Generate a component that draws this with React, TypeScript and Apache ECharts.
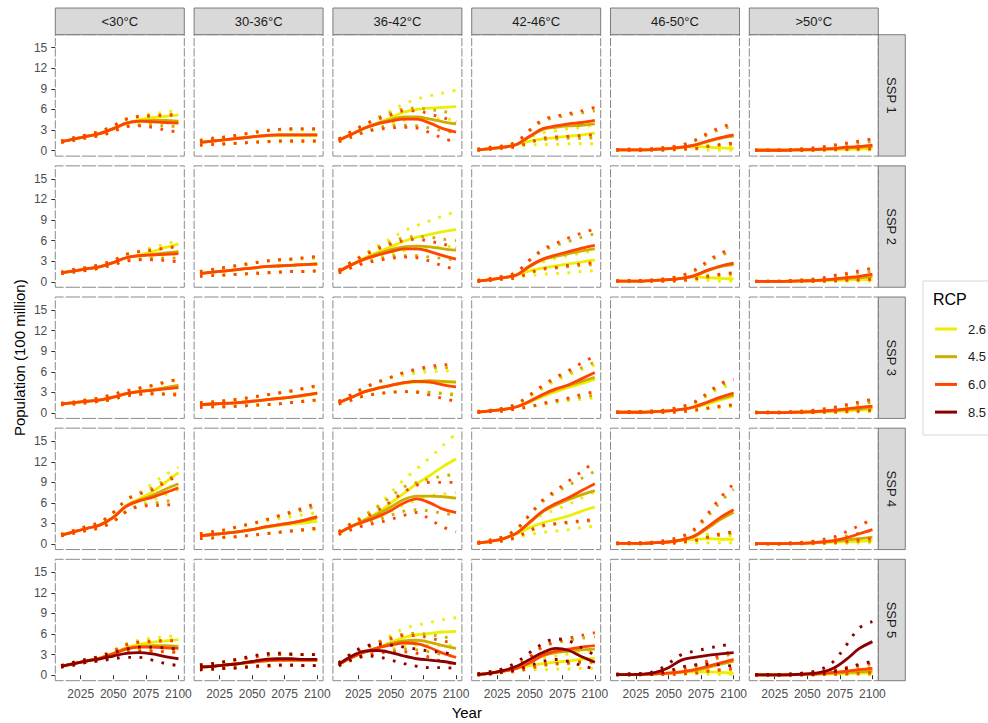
import React, { useEffect, useRef } from "react";
import * as echarts from "echarts";

// Population exposed per temperature band, by SSP (rows) and RCP (colours).
// Each panel: rcp -> [median, lower, upper], one value per year.
type Trio = number[][];
type Panel = Record<string, Trio>;

const years = [2010, 2020, 2030, 2040, 2050, 2060, 2070, 2080, 2090, 2100];
const bands = ["<30°C", "30-36°C", "36-42°C", "42-46°C", "46-50°C", ">50°C"];
const sspLabels = ["SSP 1", "SSP 2", "SSP 3", "SSP 4", "SSP 5"];
const rcps = ["2.6", "4.5", "6.0", "8.5"];
const rcpColors = ["#EEEE00", "#CDAD00", "#FF4500", "#8B0000"];
const xTicks = [2025, 2050, 2075, 2100];
const yTicks = [0, 3, 6, 9, 12, 15];

const ssp1: Panel[] = [
  {
    "2.6": [[1.3, 1.7, 2.1, 2.5, 3.2, 4.0, 4.5, 4.8, 5.0, 5.2], [1.2, 1.5, 1.9, 2.2, 2.8, 3.6, 3.9, 4.0, 4.1, 4.1], [1.4, 1.9, 2.3, 2.8, 3.6, 4.6, 5.1, 5.4, 5.6, 5.9]],
    "4.5": [[1.3, 1.7, 2.1, 2.5, 3.2, 4.0, 4.3, 4.4, 4.4, 4.3], [1.2, 1.5, 1.9, 2.2, 2.8, 3.6, 3.7, 3.7, 3.6, 3.5], [1.4, 1.9, 2.3, 2.8, 3.6, 4.6, 4.9, 5.0, 5.1, 5.1]],
    "6.0": [[1.3, 1.7, 2.1, 2.5, 3.2, 4.0, 4.3, 4.2, 4.1, 4.0], [1.2, 1.5, 1.9, 2.2, 2.8, 3.5, 3.6, 3.4, 3.0, 2.7], [1.4, 1.9, 2.3, 2.8, 3.6, 4.6, 5.0, 5.1, 5.2, 5.3]],
  },
  {
    "2.6": [[1.2, 1.4, 1.6, 1.8, 2.0, 2.1, 2.2, 2.2, 2.2, 2.2], [0.8, 0.9, 1.0, 1.1, 1.2, 1.3, 1.3, 1.3, 1.3, 1.3], [1.5, 1.8, 2.0, 2.3, 2.6, 2.9, 3.0, 3.0, 3.0, 3.0]],
    "4.5": [[1.2, 1.4, 1.6, 1.8, 2.0, 2.2, 2.3, 2.3, 2.3, 2.3], [0.8, 0.9, 1.0, 1.1, 1.2, 1.3, 1.4, 1.4, 1.4, 1.4], [1.5, 1.8, 2.0, 2.3, 2.6, 2.9, 3.1, 3.1, 3.1, 3.1]],
    "6.0": [[1.2, 1.4, 1.6, 1.8, 2.0, 2.2, 2.3, 2.3, 2.3, 2.3], [0.8, 0.9, 1.0, 1.1, 1.2, 1.3, 1.4, 1.4, 1.4, 1.4], [1.5, 1.8, 2.0, 2.3, 2.6, 2.9, 3.1, 3.2, 3.2, 3.2]],
  },
  {
    "2.6": [[1.5, 2.4, 3.3, 4.0, 4.8, 5.6, 6.0, 6.2, 6.3, 6.4], [1.3, 2.0, 2.8, 3.3, 3.9, 4.4, 4.6, 4.6, 4.6, 4.5], [1.7, 2.8, 3.8, 4.8, 5.8, 6.8, 7.5, 8.0, 8.4, 8.8]],
    "4.5": [[1.5, 2.4, 3.3, 4.0, 4.5, 4.9, 4.9, 4.6, 4.2, 3.9], [1.3, 2.0, 2.8, 3.3, 3.6, 3.7, 3.6, 3.3, 2.9, 2.6], [1.7, 2.8, 3.8, 4.8, 5.5, 6.1, 6.2, 6.0, 5.7, 5.4]],
    "6.0": [[1.5, 2.4, 3.3, 3.9, 4.3, 4.6, 4.6, 4.0, 3.2, 2.7], [1.3, 2.0, 2.7, 3.1, 3.3, 3.4, 3.3, 2.6, 1.8, 1.2], [1.7, 2.8, 3.8, 4.6, 5.2, 5.8, 5.8, 5.3, 4.8, 4.2]],
  },
  {
    "2.6": [[0.1, 0.3, 0.5, 0.9, 1.4, 1.7, 1.9, 2.1, 2.3, 2.6], [0.05, 0.2, 0.4, 0.6, 0.8, 0.9, 0.9, 1.0, 1.0, 1.0], [0.2, 0.5, 0.7, 1.2, 2.0, 2.6, 2.9, 3.2, 3.4, 3.8]],
    "4.5": [[0.1, 0.3, 0.5, 0.9, 2.0, 3.1, 3.4, 3.6, 3.7, 3.9], [0.05, 0.2, 0.4, 0.6, 1.2, 1.6, 1.7, 1.8, 1.8, 1.9], [0.2, 0.5, 0.7, 1.3, 2.9, 4.3, 4.8, 5.2, 5.5, 5.8]],
    "6.0": [[0.1, 0.3, 0.5, 0.9, 2.1, 3.2, 3.6, 3.9, 4.1, 4.4], [0.05, 0.2, 0.4, 0.6, 1.2, 1.8, 2.0, 2.1, 2.2, 2.3], [0.2, 0.5, 0.7, 1.3, 3.0, 4.5, 5.0, 5.4, 5.8, 6.3]],
  },
  {
    "2.6": [[0.1, 0.1, 0.1, 0.2, 0.3, 0.4, 0.6, 0.5, 0.4, 0.3], [0.05, 0.05, 0.05, 0.1, 0.1, 0.2, 0.2, 0.1, 0.1, 0.1], [0.15, 0.2, 0.2, 0.3, 0.5, 0.7, 0.9, 0.8, 0.7, 0.6]],
    "4.5": [[0.1, 0.1, 0.1, 0.2, 0.3, 0.5, 0.8, 1.3, 1.8, 2.1], [0.05, 0.05, 0.05, 0.1, 0.1, 0.2, 0.3, 0.6, 0.8, 1.0], [0.15, 0.2, 0.2, 0.3, 0.5, 0.8, 1.4, 2.3, 3.1, 3.6]],
    "6.0": [[0.1, 0.1, 0.1, 0.2, 0.3, 0.5, 0.8, 1.4, 1.9, 2.3], [0.05, 0.05, 0.05, 0.1, 0.1, 0.2, 0.3, 0.6, 0.9, 1.1], [0.15, 0.2, 0.2, 0.3, 0.5, 0.8, 1.5, 2.5, 3.4, 3.9]],
  },
  {
    "2.6": [[0.05, 0.05, 0.05, 0.1, 0.1, 0.15, 0.2, 0.2, 0.25, 0.3], [0.02, 0.02, 0.02, 0.05, 0.05, 0.05, 0.1, 0.1, 0.1, 0.1], [0.1, 0.1, 0.1, 0.2, 0.3, 0.4, 0.5, 0.5, 0.6, 0.6]],
    "4.5": [[0.05, 0.05, 0.05, 0.1, 0.1, 0.2, 0.3, 0.4, 0.5, 0.6], [0.02, 0.02, 0.02, 0.05, 0.05, 0.1, 0.1, 0.15, 0.2, 0.2], [0.1, 0.1, 0.1, 0.2, 0.3, 0.5, 0.7, 0.9, 1.1, 1.3]],
    "6.0": [[0.05, 0.05, 0.05, 0.1, 0.15, 0.2, 0.3, 0.5, 0.6, 0.8], [0.02, 0.02, 0.02, 0.05, 0.05, 0.1, 0.15, 0.2, 0.25, 0.3], [0.1, 0.1, 0.1, 0.2, 0.3, 0.5, 0.8, 1.1, 1.4, 1.7]],
  },
];

const ssp2: Panel[] = [
  {
    "2.6": [[1.3, 1.6, 1.9, 2.2, 2.8, 3.5, 3.9, 4.4, 5.0, 5.5], [1.2, 1.4, 1.7, 2.0, 2.5, 3.1, 3.4, 3.6, 3.9, 4.1], [1.4, 1.8, 2.1, 2.5, 3.1, 4.0, 4.5, 5.0, 5.5, 6.0]],
    "4.5": [[1.3, 1.6, 1.9, 2.2, 2.8, 3.5, 3.8, 4.0, 4.2, 4.4], [1.2, 1.4, 1.7, 2.0, 2.5, 3.1, 3.3, 3.4, 3.4, 3.5], [1.4, 1.8, 2.1, 2.5, 3.1, 4.0, 4.4, 4.7, 4.9, 5.1]],
    "6.0": [[1.3, 1.6, 1.9, 2.2, 2.8, 3.5, 3.8, 3.9, 4.0, 4.1], [1.2, 1.4, 1.7, 2.0, 2.5, 3.0, 3.2, 3.2, 3.1, 2.9], [1.4, 1.8, 2.1, 2.5, 3.1, 4.0, 4.4, 4.6, 4.9, 5.2]],
  },
  {
    "2.6": [[1.2, 1.4, 1.6, 1.8, 2.0, 2.2, 2.3, 2.4, 2.5, 2.5], [0.8, 0.9, 1.0, 1.1, 1.2, 1.3, 1.4, 1.5, 1.5, 1.5], [1.5, 1.8, 2.1, 2.4, 2.7, 3.0, 3.1, 3.2, 3.3, 3.4]],
    "4.5": [[1.2, 1.4, 1.6, 1.8, 2.0, 2.2, 2.3, 2.4, 2.5, 2.6], [0.8, 0.9, 1.0, 1.1, 1.2, 1.3, 1.4, 1.5, 1.5, 1.6], [1.5, 1.8, 2.1, 2.4, 2.7, 3.0, 3.2, 3.3, 3.5, 3.6]],
    "6.0": [[1.2, 1.4, 1.6, 1.8, 2.0, 2.2, 2.3, 2.4, 2.5, 2.6], [0.8, 0.9, 1.0, 1.1, 1.2, 1.3, 1.4, 1.5, 1.5, 1.6], [1.5, 1.8, 2.1, 2.4, 2.7, 3.0, 3.2, 3.3, 3.5, 3.7]],
  },
  {
    "2.6": [[1.5, 2.5, 3.5, 4.3, 5.1, 5.9, 6.5, 6.9, 7.3, 7.6], [1.3, 2.1, 2.9, 3.5, 4.0, 4.5, 4.8, 5.0, 5.1, 5.2], [1.7, 2.9, 4.1, 5.2, 6.3, 7.4, 8.2, 8.9, 9.6, 10.2]],
    "4.5": [[1.5, 2.5, 3.4, 4.1, 4.7, 5.1, 5.2, 5.1, 4.8, 4.6], [1.3, 2.1, 2.8, 3.3, 3.7, 3.8, 3.8, 3.6, 3.4, 3.2], [1.7, 2.9, 4.0, 5.0, 5.8, 6.4, 6.6, 6.5, 6.2, 6.0]],
    "6.0": [[1.5, 2.5, 3.3, 3.9, 4.4, 4.8, 4.8, 4.4, 3.8, 3.3], [1.3, 2.1, 2.7, 3.1, 3.4, 3.6, 3.5, 3.0, 2.3, 1.8], [1.7, 2.9, 3.9, 4.8, 5.5, 6.0, 6.2, 5.9, 5.5, 5.0]],
  },
  {
    "2.6": [[0.1, 0.3, 0.6, 1.0, 1.6, 2.0, 2.3, 2.6, 2.9, 3.2], [0.05, 0.2, 0.4, 0.6, 0.9, 1.1, 1.2, 1.3, 1.5, 1.6], [0.2, 0.5, 0.8, 1.3, 2.3, 2.9, 3.4, 3.8, 4.2, 4.6]],
    "4.5": [[0.1, 0.3, 0.6, 1.0, 2.2, 3.2, 3.7, 4.1, 4.5, 4.8], [0.05, 0.2, 0.4, 0.6, 1.3, 1.8, 2.0, 2.2, 2.4, 2.5], [0.2, 0.5, 0.8, 1.4, 3.1, 4.5, 5.3, 5.9, 6.5, 7.0]],
    "6.0": [[0.1, 0.3, 0.6, 1.0, 2.3, 3.3, 3.9, 4.4, 4.9, 5.3], [0.05, 0.2, 0.4, 0.6, 1.3, 1.9, 2.1, 2.4, 2.6, 2.8], [0.2, 0.5, 0.8, 1.4, 3.2, 4.7, 5.6, 6.4, 7.1, 7.7]],
  },
  {
    "2.6": [[0.1, 0.1, 0.1, 0.2, 0.3, 0.5, 0.7, 0.6, 0.5, 0.4], [0.05, 0.05, 0.05, 0.1, 0.1, 0.2, 0.2, 0.2, 0.1, 0.1], [0.15, 0.2, 0.2, 0.3, 0.5, 0.8, 1.1, 1.0, 0.9, 0.8]],
    "4.5": [[0.1, 0.1, 0.1, 0.2, 0.3, 0.5, 0.9, 1.6, 2.2, 2.5], [0.05, 0.05, 0.05, 0.1, 0.1, 0.2, 0.4, 0.7, 1.0, 1.2], [0.15, 0.2, 0.2, 0.3, 0.5, 0.9, 1.6, 2.8, 3.9, 4.3]],
    "6.0": [[0.1, 0.1, 0.1, 0.2, 0.3, 0.5, 0.9, 1.7, 2.3, 2.7], [0.05, 0.05, 0.05, 0.1, 0.1, 0.2, 0.4, 0.8, 1.1, 1.3], [0.15, 0.2, 0.2, 0.3, 0.5, 0.9, 1.7, 3.0, 4.2, 4.6]],
  },
  {
    "2.6": [[0.05, 0.05, 0.05, 0.1, 0.1, 0.15, 0.2, 0.25, 0.3, 0.3], [0.02, 0.02, 0.02, 0.05, 0.05, 0.05, 0.1, 0.1, 0.1, 0.1], [0.1, 0.1, 0.1, 0.2, 0.3, 0.4, 0.5, 0.6, 0.6, 0.7]],
    "4.5": [[0.05, 0.05, 0.05, 0.1, 0.15, 0.2, 0.3, 0.5, 0.6, 0.8], [0.02, 0.02, 0.02, 0.05, 0.05, 0.1, 0.1, 0.2, 0.2, 0.3], [0.1, 0.1, 0.1, 0.2, 0.3, 0.5, 0.7, 1.0, 1.3, 1.5]],
    "6.0": [[0.05, 0.05, 0.05, 0.1, 0.15, 0.25, 0.4, 0.6, 0.8, 1.1], [0.02, 0.02, 0.02, 0.05, 0.05, 0.1, 0.15, 0.25, 0.3, 0.4], [0.1, 0.1, 0.1, 0.2, 0.3, 0.5, 0.9, 1.2, 1.6, 2.0]],
  },
];

const ssp3: Panel[] = [
  {
    "2.6": [[1.3, 1.5, 1.7, 1.9, 2.3, 2.8, 3.1, 3.3, 3.6, 3.9], [1.2, 1.3, 1.5, 1.7, 2.0, 2.5, 2.7, 2.8, 2.8, 2.8], [1.4, 1.6, 1.9, 2.2, 2.7, 3.2, 3.6, 4.0, 4.4, 4.8]],
    "4.5": [[1.3, 1.5, 1.7, 1.9, 2.3, 2.8, 3.1, 3.4, 3.7, 4.0], [1.2, 1.3, 1.5, 1.7, 2.0, 2.5, 2.7, 2.8, 2.8, 2.7], [1.4, 1.6, 1.9, 2.2, 2.7, 3.2, 3.6, 4.0, 4.5, 4.9]],
    "6.0": [[1.3, 1.5, 1.7, 1.9, 2.3, 2.8, 3.1, 3.3, 3.5, 3.7], [1.2, 1.3, 1.5, 1.7, 2.0, 2.5, 2.7, 2.8, 2.7, 2.6], [1.4, 1.6, 1.9, 2.2, 2.7, 3.2, 3.6, 4.0, 4.5, 4.9]],
  },
  {
    "2.6": [[1.2, 1.3, 1.4, 1.5, 1.7, 1.9, 2.1, 2.3, 2.5, 2.8], [0.8, 0.9, 0.9, 1.0, 1.1, 1.2, 1.3, 1.5, 1.7, 1.8], [1.5, 1.6, 1.8, 2.0, 2.3, 2.6, 2.9, 3.2, 3.5, 3.8]],
    "4.5": [[1.2, 1.3, 1.4, 1.5, 1.7, 1.9, 2.1, 2.3, 2.6, 2.9], [0.8, 0.9, 0.9, 1.0, 1.1, 1.2, 1.3, 1.5, 1.7, 1.9], [1.5, 1.6, 1.8, 2.0, 2.3, 2.6, 2.9, 3.2, 3.6, 4.0]],
    "6.0": [[1.2, 1.3, 1.4, 1.5, 1.7, 1.9, 2.1, 2.3, 2.6, 2.9], [0.8, 0.9, 0.9, 1.0, 1.1, 1.2, 1.3, 1.5, 1.7, 1.9], [1.5, 1.6, 1.8, 2.0, 2.3, 2.6, 2.9, 3.2, 3.6, 4.0]],
  },
  {
    "2.6": [[1.5, 2.3, 3.1, 3.6, 4.0, 4.3, 4.5, 4.5, 4.5, 4.5], [1.3, 1.9, 2.5, 2.8, 3.0, 3.1, 3.1, 3.0, 2.9, 2.8], [1.7, 2.7, 3.7, 4.4, 5.1, 5.5, 5.8, 6.0, 6.1, 6.2]],
    "4.5": [[1.5, 2.3, 3.1, 3.6, 4.0, 4.4, 4.6, 4.7, 4.6, 4.5], [1.3, 1.9, 2.5, 2.8, 3.0, 3.1, 3.1, 3.0, 2.8, 2.6], [1.7, 2.7, 3.7, 4.5, 5.2, 5.8, 6.2, 6.5, 6.6, 6.6]],
    "6.0": [[1.5, 2.3, 3.1, 3.6, 4.0, 4.4, 4.6, 4.5, 4.1, 3.8], [1.3, 1.9, 2.5, 2.8, 3.0, 3.1, 3.0, 2.6, 2.1, 1.7], [1.7, 2.7, 3.7, 4.5, 5.2, 5.9, 6.4, 6.8, 7.0, 7.1]],
  },
  {
    "2.6": [[0.1, 0.3, 0.5, 0.9, 1.6, 2.4, 3.1, 3.7, 4.3, 4.9], [0.05, 0.2, 0.3, 0.6, 0.9, 1.2, 1.5, 1.8, 2.0, 2.2], [0.2, 0.4, 0.7, 1.3, 2.4, 3.6, 4.7, 5.5, 6.3, 7.0]],
    "4.5": [[0.1, 0.3, 0.5, 0.9, 1.7, 2.6, 3.4, 4.0, 4.6, 5.2], [0.05, 0.2, 0.3, 0.6, 0.9, 1.3, 1.7, 2.0, 2.3, 2.6], [0.2, 0.4, 0.7, 1.3, 2.5, 3.8, 5.0, 5.8, 6.6, 7.4]],
    "6.0": [[0.1, 0.3, 0.5, 0.9, 1.7, 2.7, 3.5, 4.1, 5.0, 5.9], [0.05, 0.2, 0.3, 0.6, 0.9, 1.4, 1.8, 2.2, 2.7, 3.1], [0.2, 0.4, 0.7, 1.3, 2.6, 4.0, 5.2, 6.2, 7.3, 8.3]],
  },
  {
    "2.6": [[0.1, 0.1, 0.1, 0.2, 0.3, 0.5, 0.8, 1.3, 1.9, 2.4], [0.05, 0.05, 0.05, 0.1, 0.1, 0.2, 0.3, 0.6, 0.8, 1.0], [0.15, 0.2, 0.2, 0.3, 0.5, 0.8, 1.4, 2.5, 3.6, 4.2]],
    "4.5": [[0.1, 0.1, 0.1, 0.2, 0.3, 0.5, 0.9, 1.5, 2.1, 2.6], [0.05, 0.05, 0.05, 0.1, 0.1, 0.2, 0.4, 0.7, 0.9, 1.1], [0.15, 0.2, 0.2, 0.3, 0.5, 0.9, 1.5, 2.7, 4.0, 4.6]],
    "6.0": [[0.1, 0.1, 0.1, 0.2, 0.3, 0.5, 0.9, 1.6, 2.3, 2.9], [0.05, 0.05, 0.05, 0.1, 0.1, 0.2, 0.4, 0.7, 1.0, 1.2], [0.15, 0.2, 0.2, 0.3, 0.5, 0.9, 1.6, 2.9, 4.3, 4.9]],
  },
  {
    "2.6": [[0.05, 0.05, 0.05, 0.1, 0.1, 0.15, 0.2, 0.3, 0.4, 0.5], [0.02, 0.02, 0.02, 0.05, 0.05, 0.05, 0.1, 0.1, 0.15, 0.2], [0.1, 0.1, 0.1, 0.2, 0.3, 0.4, 0.5, 0.7, 0.8, 1.0]],
    "4.5": [[0.05, 0.05, 0.05, 0.1, 0.15, 0.2, 0.3, 0.5, 0.6, 0.8], [0.02, 0.02, 0.02, 0.05, 0.05, 0.1, 0.1, 0.2, 0.25, 0.3], [0.1, 0.1, 0.1, 0.2, 0.3, 0.5, 0.7, 1.0, 1.3, 1.6]],
    "6.0": [[0.05, 0.05, 0.05, 0.1, 0.15, 0.25, 0.4, 0.6, 0.8, 1.0], [0.02, 0.02, 0.02, 0.05, 0.05, 0.1, 0.15, 0.25, 0.3, 0.4], [0.1, 0.1, 0.1, 0.2, 0.3, 0.5, 0.8, 1.2, 1.6, 2.0]],
  },
];

const ssp4: Panel[] = [
  {
    "2.6": [[1.3, 1.8, 2.3, 2.8, 3.9, 5.6, 6.6, 7.6, 9.0, 10.4], [1.2, 1.6, 2.0, 2.4, 3.3, 4.8, 5.8, 6.4, 7.2, 8.0], [1.4, 2.0, 2.6, 3.2, 4.6, 6.5, 7.5, 8.8, 10.1, 11.2]],
    "4.5": [[1.3, 1.8, 2.3, 2.8, 3.9, 5.6, 6.4, 7.1, 8.0, 8.8], [1.2, 1.6, 2.0, 2.4, 3.3, 4.8, 5.5, 5.9, 6.2, 6.6], [1.4, 2.0, 2.6, 3.2, 4.6, 6.5, 7.4, 8.2, 9.3, 10.2]],
    "6.0": [[1.3, 1.8, 2.3, 2.8, 3.9, 5.5, 6.3, 6.8, 7.5, 8.2], [1.2, 1.6, 2.0, 2.4, 3.3, 4.7, 5.5, 5.6, 5.7, 5.8], [1.4, 2.0, 2.6, 3.2, 4.6, 6.4, 7.3, 7.9, 9.0, 10.0]],
  },
  {
    "2.6": [[1.2, 1.4, 1.6, 1.8, 2.1, 2.4, 2.7, 2.9, 3.1, 3.3], [0.8, 0.9, 1.0, 1.1, 1.3, 1.5, 1.7, 1.9, 2.0, 2.1], [1.5, 1.8, 2.1, 2.5, 2.9, 3.3, 3.7, 4.0, 4.3, 4.6]],
    "4.5": [[1.2, 1.4, 1.6, 1.8, 2.1, 2.5, 2.8, 3.1, 3.4, 3.8], [0.8, 0.9, 1.0, 1.1, 1.3, 1.5, 1.7, 1.9, 2.1, 2.3], [1.5, 1.8, 2.1, 2.6, 3.0, 3.5, 4.0, 4.5, 5.0, 5.6]],
    "6.0": [[1.2, 1.4, 1.6, 1.8, 2.1, 2.5, 2.8, 3.1, 3.5, 4.0], [0.8, 0.9, 1.0, 1.1, 1.3, 1.5, 1.7, 1.9, 2.1, 2.3], [1.5, 1.8, 2.1, 2.6, 3.0, 3.5, 4.1, 4.7, 5.3, 6.0]],
  },
  {
    "2.6": [[1.6, 2.6, 3.6, 4.6, 6.0, 7.4, 8.8, 10.0, 11.3, 12.4], [1.4, 2.2, 3.0, 3.8, 4.8, 5.7, 6.4, 7.0, 7.3, 7.5], [1.8, 3.1, 4.3, 5.6, 7.5, 9.4, 11.0, 12.6, 14.4, 16.1]],
    "4.5": [[1.6, 2.6, 3.5, 4.4, 5.4, 6.5, 7.0, 7.0, 6.9, 6.7], [1.4, 2.2, 2.9, 3.5, 4.2, 4.8, 5.0, 4.8, 4.5, 4.2], [1.8, 3.0, 4.2, 5.4, 6.9, 8.3, 9.0, 9.5, 9.9, 10.2]],
    "6.0": [[1.6, 2.6, 3.3, 4.0, 4.9, 6.0, 6.6, 6.0, 5.1, 4.6], [1.4, 2.1, 2.7, 3.1, 3.6, 4.2, 4.6, 3.6, 2.5, 1.8], [1.8, 3.0, 3.9, 4.9, 6.2, 7.6, 8.6, 9.0, 9.0, 9.0]],
  },
  {
    "2.6": [[0.15, 0.4, 0.8, 1.5, 2.4, 3.1, 3.6, 4.1, 4.8, 5.4], [0.1, 0.25, 0.5, 0.9, 1.4, 1.7, 1.9, 2.1, 2.4, 2.6], [0.25, 0.6, 1.1, 2.0, 3.3, 4.3, 5.0, 5.8, 6.7, 7.6]],
    "4.5": [[0.15, 0.4, 0.8, 1.6, 3.1, 4.7, 5.7, 6.5, 7.2, 7.8], [0.1, 0.25, 0.5, 1.0, 1.9, 2.6, 2.9, 3.1, 3.3, 3.4], [0.25, 0.6, 1.1, 2.2, 4.2, 6.2, 7.5, 8.6, 9.6, 10.6]],
    "6.0": [[0.15, 0.4, 0.8, 1.6, 3.2, 4.8, 5.9, 6.8, 7.8, 8.8], [0.1, 0.25, 0.5, 1.0, 2.0, 2.7, 3.0, 3.2, 3.4, 3.6], [0.25, 0.6, 1.1, 2.2, 4.3, 6.4, 7.8, 9.2, 10.6, 12.0]],
  },
  {
    "2.6": [[0.1, 0.1, 0.1, 0.2, 0.3, 0.5, 0.7, 0.8, 0.7, 0.7], [0.05, 0.05, 0.05, 0.1, 0.1, 0.2, 0.2, 0.2, 0.2, 0.2], [0.15, 0.2, 0.2, 0.3, 0.5, 0.9, 1.3, 1.4, 1.3, 1.2]],
    "4.5": [[0.1, 0.1, 0.1, 0.2, 0.3, 0.6, 1.1, 2.3, 3.6, 4.6], [0.05, 0.05, 0.05, 0.1, 0.1, 0.3, 0.5, 0.9, 1.3, 1.6], [0.15, 0.2, 0.2, 0.3, 0.6, 1.0, 2.0, 4.0, 6.2, 8.0]],
    "6.0": [[0.1, 0.1, 0.1, 0.2, 0.3, 0.6, 1.2, 2.5, 3.9, 5.0], [0.05, 0.05, 0.05, 0.1, 0.1, 0.3, 0.5, 1.0, 1.5, 1.8], [0.15, 0.2, 0.2, 0.3, 0.6, 1.1, 2.2, 4.4, 6.8, 8.8]],
  },
  {
    "2.6": [[0.05, 0.05, 0.05, 0.1, 0.15, 0.2, 0.3, 0.35, 0.4, 0.5], [0.02, 0.02, 0.02, 0.05, 0.05, 0.05, 0.1, 0.1, 0.15, 0.2], [0.1, 0.1, 0.1, 0.2, 0.3, 0.4, 0.6, 0.7, 0.8, 0.9]],
    "4.5": [[0.05, 0.05, 0.05, 0.1, 0.15, 0.25, 0.4, 0.6, 0.8, 1.0], [0.02, 0.02, 0.02, 0.05, 0.05, 0.1, 0.15, 0.25, 0.35, 0.4], [0.1, 0.1, 0.1, 0.2, 0.3, 0.5, 0.8, 1.2, 1.6, 2.0]],
    "6.0": [[0.05, 0.05, 0.05, 0.1, 0.15, 0.3, 0.5, 0.9, 1.5, 2.1], [0.02, 0.02, 0.02, 0.05, 0.1, 0.15, 0.25, 0.4, 0.6, 0.8], [0.1, 0.1, 0.1, 0.2, 0.3, 0.6, 1.0, 1.8, 2.7, 3.6]],
  },
];

const ssp5: Panel[] = [
  {
    "2.6": [[1.3, 1.7, 2.1, 2.5, 3.2, 4.0, 4.5, 4.8, 5.0, 5.2], [1.2, 1.5, 1.9, 2.2, 2.8, 3.5, 3.9, 4.0, 4.1, 4.1], [1.4, 1.9, 2.3, 2.8, 3.6, 4.6, 5.1, 5.4, 5.6, 5.8]],
    "4.5": [[1.3, 1.7, 2.1, 2.5, 3.2, 3.9, 4.2, 4.3, 4.3, 4.2], [1.2, 1.5, 1.9, 2.2, 2.8, 3.4, 3.6, 3.6, 3.5, 3.4], [1.4, 1.9, 2.3, 2.8, 3.6, 4.5, 4.9, 5.0, 5.1, 5.1]],
    "6.0": [[1.3, 1.7, 2.1, 2.5, 3.1, 3.8, 4.1, 4.1, 4.0, 3.9], [1.2, 1.5, 1.9, 2.2, 2.7, 3.3, 3.5, 3.5, 3.4, 3.3], [1.4, 1.9, 2.3, 2.8, 3.5, 4.4, 4.8, 4.9, 5.0, 5.0]],
    "8.5": [[1.3, 1.7, 2.1, 2.4, 2.8, 3.2, 3.3, 3.1, 2.7, 2.4], [1.2, 1.5, 1.9, 2.1, 2.4, 2.6, 2.6, 2.2, 1.7, 1.4], [1.4, 1.9, 2.3, 2.7, 3.3, 3.8, 4.1, 4.1, 4.0, 3.8]],
  },
  {
    "2.6": [[1.2, 1.3, 1.5, 1.7, 1.9, 2.1, 2.2, 2.2, 2.2, 2.2], [0.8, 0.9, 1.0, 1.1, 1.2, 1.3, 1.4, 1.4, 1.4, 1.4], [1.5, 1.7, 2.0, 2.3, 2.6, 2.9, 3.0, 3.0, 3.0, 3.0]],
    "4.5": [[1.2, 1.3, 1.5, 1.7, 1.9, 2.1, 2.2, 2.2, 2.2, 2.2], [0.8, 0.9, 1.0, 1.1, 1.2, 1.3, 1.4, 1.4, 1.4, 1.4], [1.5, 1.7, 2.0, 2.3, 2.6, 2.9, 3.0, 3.0, 3.0, 3.0]],
    "6.0": [[1.2, 1.3, 1.5, 1.7, 1.9, 2.1, 2.2, 2.2, 2.2, 2.2], [0.8, 0.9, 1.0, 1.1, 1.2, 1.3, 1.4, 1.4, 1.4, 1.4], [1.5, 1.7, 2.0, 2.3, 2.6, 2.9, 3.0, 3.0, 3.0, 3.0]],
    "8.5": [[1.2, 1.3, 1.5, 1.7, 2.0, 2.3, 2.4, 2.4, 2.3, 2.3], [0.8, 0.9, 1.0, 1.1, 1.3, 1.4, 1.5, 1.5, 1.4, 1.4], [1.5, 1.7, 2.0, 2.4, 2.8, 3.1, 3.2, 3.1, 3.0, 3.0]],
  },
  {
    "2.6": [[1.6, 2.6, 3.4, 4.0, 4.8, 5.5, 5.9, 6.1, 6.3, 6.4], [1.4, 2.2, 2.8, 3.3, 3.8, 4.2, 4.4, 4.4, 4.4, 4.3], [1.8, 3.0, 3.9, 4.8, 5.8, 6.8, 7.3, 7.7, 8.1, 8.4]],
    "4.5": [[1.6, 2.6, 3.4, 4.0, 4.6, 5.0, 5.1, 4.8, 4.3, 3.9], [1.4, 2.2, 2.8, 3.3, 3.6, 3.8, 3.7, 3.4, 3.0, 2.7], [1.8, 3.0, 3.9, 4.8, 5.5, 6.0, 6.1, 5.9, 5.6, 5.3]],
    "6.0": [[1.6, 2.6, 3.4, 4.0, 4.4, 4.7, 4.6, 4.0, 3.2, 2.6], [1.4, 2.2, 2.8, 3.2, 3.4, 3.4, 3.2, 2.6, 2.0, 1.6], [1.8, 3.0, 3.9, 4.7, 5.3, 5.8, 5.8, 5.4, 5.0, 4.6]],
    "8.5": [[1.6, 2.8, 3.5, 3.6, 3.3, 2.8, 2.4, 2.2, 2.0, 1.7], [1.4, 2.3, 2.8, 2.7, 2.2, 1.7, 1.3, 1.1, 1.1, 1.0], [1.8, 3.2, 4.2, 4.5, 4.4, 4.1, 3.8, 3.5, 3.3, 3.0]],
  },
  {
    "2.6": [[0.1, 0.3, 0.6, 1.0, 1.4, 1.7, 1.9, 2.1, 2.3, 2.5], [0.05, 0.2, 0.4, 0.6, 0.8, 0.8, 0.9, 0.9, 1.0, 1.0], [0.2, 0.5, 0.8, 1.3, 2.0, 2.5, 2.8, 3.1, 3.4, 3.7]],
    "4.5": [[0.1, 0.3, 0.6, 1.0, 1.8, 2.8, 3.3, 3.5, 3.7, 3.8], [0.05, 0.2, 0.4, 0.6, 1.0, 1.4, 1.6, 1.7, 1.8, 1.8], [0.2, 0.5, 0.8, 1.4, 2.6, 4.1, 4.7, 5.1, 5.4, 5.6]],
    "6.0": [[0.1, 0.3, 0.6, 1.0, 1.8, 2.9, 3.5, 3.8, 4.1, 4.3], [0.05, 0.2, 0.4, 0.6, 1.0, 1.5, 1.7, 1.8, 2.0, 2.1], [0.2, 0.5, 0.8, 1.4, 2.7, 4.2, 4.9, 5.4, 5.8, 6.2]],
    "8.5": [[0.1, 0.3, 0.7, 1.3, 2.3, 3.3, 3.9, 3.6, 2.7, 1.9], [0.05, 0.2, 0.5, 0.8, 1.4, 2.0, 2.3, 2.0, 1.4, 0.9], [0.2, 0.5, 1.0, 1.9, 3.3, 4.6, 5.3, 5.0, 4.0, 2.9]],
  },
  {
    "2.6": [[0.1, 0.1, 0.1, 0.2, 0.3, 0.4, 0.5, 0.5, 0.4, 0.3], [0.05, 0.05, 0.05, 0.1, 0.1, 0.15, 0.2, 0.15, 0.1, 0.1], [0.15, 0.2, 0.2, 0.3, 0.5, 0.7, 0.8, 0.8, 0.7, 0.6]],
    "4.5": [[0.1, 0.1, 0.1, 0.2, 0.3, 0.5, 0.7, 1.1, 1.6, 2.0], [0.05, 0.05, 0.05, 0.1, 0.1, 0.2, 0.3, 0.5, 0.7, 0.9], [0.15, 0.2, 0.2, 0.3, 0.5, 0.8, 1.2, 1.9, 2.6, 3.2]],
    "6.0": [[0.1, 0.1, 0.1, 0.2, 0.3, 0.5, 0.8, 1.3, 1.8, 2.3], [0.05, 0.05, 0.05, 0.1, 0.1, 0.2, 0.3, 0.6, 0.8, 1.0], [0.15, 0.2, 0.2, 0.3, 0.5, 0.9, 1.4, 2.1, 2.9, 3.6]],
    "8.5": [[0.1, 0.1, 0.15, 0.4, 1.1, 2.2, 2.6, 2.9, 3.1, 3.3], [0.05, 0.05, 0.1, 0.2, 0.6, 1.2, 1.5, 1.6, 1.5, 1.3], [0.15, 0.2, 0.25, 0.6, 1.7, 3.0, 3.5, 3.9, 4.3, 4.5]],
  },
  {
    "2.6": [[0.05, 0.05, 0.05, 0.1, 0.1, 0.15, 0.2, 0.25, 0.3, 0.3], [0.02, 0.02, 0.02, 0.05, 0.05, 0.05, 0.1, 0.1, 0.1, 0.1], [0.1, 0.1, 0.1, 0.2, 0.3, 0.4, 0.5, 0.5, 0.6, 0.6]],
    "4.5": [[0.05, 0.05, 0.05, 0.1, 0.15, 0.2, 0.3, 0.4, 0.5, 0.6], [0.02, 0.02, 0.02, 0.05, 0.05, 0.1, 0.1, 0.15, 0.2, 0.2], [0.1, 0.1, 0.1, 0.2, 0.3, 0.45, 0.6, 0.8, 1.0, 1.1]],
    "6.0": [[0.05, 0.05, 0.05, 0.1, 0.15, 0.25, 0.4, 0.6, 0.8, 1.0], [0.02, 0.02, 0.02, 0.05, 0.05, 0.1, 0.15, 0.25, 0.3, 0.4], [0.1, 0.1, 0.1, 0.2, 0.3, 0.5, 0.8, 1.1, 1.4, 1.7]],
    "8.5": [[0.05, 0.05, 0.05, 0.1, 0.2, 0.4, 1.0, 2.3, 3.9, 4.9], [0.02, 0.02, 0.02, 0.05, 0.1, 0.2, 0.5, 1.0, 1.6, 2.0], [0.1, 0.1, 0.1, 0.2, 0.4, 0.8, 2.0, 4.4, 6.9, 7.8]],
  },
];

const panelsBySsp = [ssp1, ssp2, ssp3, ssp4, ssp5];

// layout (px)
const COL_X0 = 55.3;
const COL_STEP = 138.8;
const ROW_Y0 = 34.7;
const ROW_STEP = 131.15;
const PW = 129;
const PH = 121.4;
const STRIP = 27;
const X_MIN = 2005.5;
const X_MAX = 2104.5;
const Y_MIN = -0.8;
const Y_MAX = 16.9;
const FONT = "'Liberation Sans', Arial, sans-serif";

const App = () => {
  const chartRef = useRef<HTMLDivElement>(null);

  useEffect(() => {
    if (!chartRef.current) return;
    const chart = echarts.init(chartRef.current, null, { renderer: "svg" });

    const grids: any[] = [];
    const xAxes: any[] = [];
    const yAxes: any[] = [];
    const series: any[] = [];
    const graphics: any[] = [];

    // dashed panel border: gaps where the (white) grid lines cross it
    const sx = PW / (X_MAX - X_MIN);
    const sy = PH / (Y_MAX - Y_MIN);
    const gap = 2;
    const hp = 12.5 * sx;
    const hg0 = (2012.5 - X_MIN) * sx;
    const hOff = (((hp - gap) - (hg0 - gap / 2)) % hp + hp) % hp;
    const vp = 1.5 * sy;
    const vg0 = (Y_MAX - 16.5) * sy;
    const vOff = (((vp - gap) - (vg0 - gap / 2)) % vp + vp) % vp;
    const borderStyle = (dash: number[], off: number) => ({
      stroke: "#8a8a8a",
      lineWidth: 1,
      lineDash: dash,
      lineDashOffset: off,
    });

    panelsBySsp.forEach((ssp, r) => {
      ssp.forEach((panel, c) => {
        const idx = grids.length;
        const left = COL_X0 + c * COL_STEP;
        const top = ROW_Y0 + r * ROW_STEP;
        grids.push({ left, top, width: PW, height: PH, containLabel: false });
        xAxes.push({
          gridIndex: idx,
          type: "value",
          min: X_MIN,
          max: X_MAX,
          axisLine: { show: false },
          splitLine: { show: false },
          axisTick: { show: r === 4, customValues: xTicks, length: 4, lineStyle: { color: "#333333" } },
          axisLabel: {
            show: r === 4,
            customValues: xTicks,
            formatter: (v: number) => String(v),
            margin: 7,
            color: "#4d4d4d",
            fontSize: 12,
            fontFamily: FONT,
          },
        });
        yAxes.push({
          gridIndex: idx,
          type: "value",
          min: Y_MIN,
          max: Y_MAX,
          axisLine: { show: false },
          splitLine: { show: false },
          axisTick: { show: c === 0, customValues: yTicks, length: 4, lineStyle: { color: "#333333" } },
          axisLabel: {
            show: c === 0,
            customValues: yTicks,
            formatter: (v: number) => String(v),
            margin: 8,
            color: "#4d4d4d",
            fontSize: 12,
            fontFamily: FONT,
          },
        });

        rcps.forEach((rcp, k) => {
          const trio = panel[rcp];
          if (!trio) return;
          const color = rcpColors[k];
          const [mid, lo, hi] = trio;
          [lo, hi].forEach((arr, b) => {
            series.push({
              name: `${rcp} ${b ? "upper" : "lower"}`,
              type: "line",
              xAxisIndex: idx,
              yAxisIndex: idx,
              data: years.map((y, i) => [y, arr[i]]),
              symbol: "none",
              smooth: 0.35,
              silent: true,
              color,
              lineStyle: { color, width: 2.9, type: [2.7, 8.6], cap: "butt" },
            });
          });
          series.push({
            name: rcp,
            type: "line",
            xAxisIndex: idx,
            yAxisIndex: idx,
            data: years.map((y, i) => [y, mid[i]]),
            symbol: "none",
            smooth: 0.35,
            silent: true,
            color,
            lineStyle: { color, width: 2.8 },
          });
        });

        graphics.push(
          { type: "line", z: 5, shape: { x1: left, y1: top, x2: left + PW, y2: top }, style: borderStyle([hp - gap, gap], hOff) },
          { type: "line", z: 5, shape: { x1: left, y1: top + PH, x2: left + PW, y2: top + PH }, style: borderStyle([hp - gap, gap], hOff) },
          { type: "line", z: 5, shape: { x1: left, y1: top, x2: left, y2: top + PH }, style: borderStyle([vp - gap, gap], vOff) },
          { type: "line", z: 5, shape: { x1: left + PW, y1: top, x2: left + PW, y2: top + PH }, style: borderStyle([vp - gap, gap], vOff) }
        );
      });
    });

    // column strips
    bands.forEach((band, c) => {
      const left = COL_X0 + c * COL_STEP;
      graphics.push(
        { type: "rect", z: 5, shape: { x: left, y: ROW_Y0 - 26.7, width: PW, height: 26.7 }, style: { fill: "#d9d9d9", stroke: "#5f5f5f", lineWidth: 0.8 } },
        {
          type: "text", z: 6, x: left + PW / 2, y: ROW_Y0 - 13.3,
          style: { text: band, fill: "#1a1a1a", fontSize: 13, fontFamily: FONT, align: "center", verticalAlign: "middle", textAlign: "center", textVerticalAlign: "middle" },
        }
      );
    });

    // row strips
    const stripX = COL_X0 + 5 * COL_STEP + PW;
    sspLabels.forEach((lab, r) => {
      const top = ROW_Y0 + r * ROW_STEP;
      graphics.push(
        { type: "rect", z: 5, shape: { x: stripX, y: top, width: STRIP, height: PH }, style: { fill: "#d9d9d9", stroke: "#5f5f5f", lineWidth: 0.8 } },
        {
          type: "text", z: 6, x: stripX + STRIP / 2, y: top + PH / 2, rotation: -Math.PI / 2,
          style: { text: lab, fill: "#1a1a1a", fontSize: 13, fontFamily: FONT, align: "center", verticalAlign: "middle", textAlign: "center", textVerticalAlign: "middle" },
        }
      );
    });

    const plotMidX = (COL_X0 + stripX) / 2;
    const plotMidY = (ROW_Y0 + ROW_Y0 + 4 * ROW_STEP + PH) / 2;
    graphics.push(
      {
        type: "text", x: plotMidX, y: 712,
        style: { text: "Year", fill: "#000", fontSize: 15, fontFamily: FONT, align: "center", verticalAlign: "middle", textAlign: "center", textVerticalAlign: "middle" },
      },
      {
        type: "text", x: 19, y: plotMidY, rotation: Math.PI / 2,
        style: { text: "Population (100 million)", fill: "#000", fontSize: 15, fontFamily: FONT, align: "center", verticalAlign: "middle", textAlign: "center", textVerticalAlign: "middle" },
      },
      // legend box + title
      { type: "rect", z: 0, shape: { x: 923, y: 281, width: 80, height: 154 }, style: { fill: "#fff", stroke: "#d6d6d6", lineWidth: 1 } },
      {
        type: "text", z: 1, x: 933, y: 299,
        style: { text: "RCP", fill: "#000", fontSize: 16, fontFamily: FONT, align: "left", verticalAlign: "middle", textAlign: "left", textVerticalAlign: "middle" },
      }
    );

    chart.setOption({
      animation: false,
      backgroundColor: "#ffffff",
      textStyle: { fontFamily: FONT },
      grid: grids,
      xAxis: xAxes,
      yAxis: yAxes,
      series,
      graphic: graphics,
      legend: {
        left: 935,
        top: 321,
        orient: "vertical",
        padding: 0,
        itemWidth: 22,
        itemHeight: 3,
        itemGap: 11.7,
        selectedMode: false,
        data: rcps.map((r) => ({ name: r, icon: "rect" })),
        textStyle: { fontSize: 13, color: "#1a1a1a", lineHeight: 16, padding: [0, 0, 0, 6], fontFamily: FONT },
      },
    });

    const handleResize = () => chart.resize();
    window.addEventListener("resize", handleResize);
    return () => {
      window.removeEventListener("resize", handleResize);
      chart.dispose();
    };
  }, []);

  return (
    <div
      ref={chartRef}
      style={{ position: "fixed", left: 0, top: 0, width: "988px", height: "723px", background: "#fff" }}
    />
  );
};

export default App;
